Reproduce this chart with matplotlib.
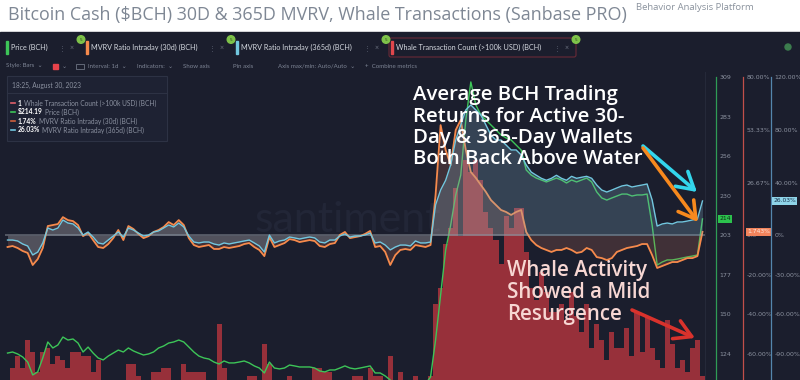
import matplotlib
matplotlib.use('Agg')
import matplotlib.pyplot as plt
import matplotlib.transforms as mtransforms
from matplotlib.patches import Rectangle, FancyBboxPatch, Circle
import numpy as np

# daily values, Feb -> Aug 30 2023
price = [124.6, 125.3, 124.0, 122.0, 118.6, 110.0, 112.0, 121.3, 132.0, 128.0,
         130.0, 135.3, 133.3, 134.0, 131.3, 125.3, 128.6, 124.6, 121.3, 120.0,
         122.6, 124.6, 126.6, 125.3, 128.0, 126.0, 124.6, 123.3, 124.0, 125.3,
         128.0, 129.3, 131.3, 132.0, 133.3, 132.0, 128.6, 125.3, 122.6, 121.3,
         120.6, 118.6, 117.3, 119.3, 118.0, 118.0, 118.6, 119.3, 118.0, 116.0,
         114.6, 111.3, 118.6, 114.6, 114.0, 114.6, 116.6, 116.0, 115.3, 115.3,
         115.3, 114.6, 112.6, 112.0, 113.3, 113.3, 114.6, 116.0, 114.6, 114.0,
         114.6, 115.3, 116.0, 111.3, 111.3, 109.3, 106.6, 103.3, 102.6, 101.9,
         101.3, 102.6, 103.3, 104.0, 108.6, 133.3, 163.4, 193.4, 210.1, 230.2,
         243.5, 280.3, 305.7, 290.3, 283.6, 280.3, 276.9, 273.6, 270.3, 268.3,
         266.9, 263.6, 260.2, 246.9, 243.5, 241.5, 240.2, 238.9, 240.2, 241.5,
         240.2, 238.2, 240.2, 238.9, 240.2, 241.5, 238.9, 232.2, 228.2, 226.8,
         228.2, 229.5, 230.8, 230.8, 229.5, 230.2, 230.2, 230.8, 210.1, 183.4,
         185.4, 186.8, 186.8, 187.4, 188.1, 188.8, 189.4, 190.1, 214.19]

mvrv30 = [-5.9, -5.4, -6.4, -7.9, -8.9, -15.0, -12.0, -6.4, 4.7, 5.2,
          5.7, 9.2, 7.7, 7.2, 5.2, -0.4, 1.2, -2.4, -5.9, -6.4,
          -4.4, -1.4, 2.7, -2.4, 4.7, 3.2, 0.7, -1.4, -0.4, 1.7,
          2.7, 4.2, 6.7, 5.2, 7.7, 5.2, -1.4, -4.9, -5.9, -5.4,
          -4.9, -6.9, -6.9, -5.9, -6.4, -5.9, -5.4, -4.4, -3.9, -5.9,
          -7.4, -10.5, -0.9, -5.9, -4.9, -3.9, -1.9, -2.4, -3.4, -2.9,
          -2.4, -2.9, -5.4, -5.9, -4.4, -3.9, 0.2, 1.7, -1.4, -0.9,
          -0.4, 0.7, 2.2, -5.9, -5.4, -8.4, -15.0, -10.0, -7.4, -6.9,
          -7.4, -4.9, -5.4, -5.9, -4.9, 20.4, 55.7, 43.1, 35.5, 53.2,
          58.3, 43.1, 32.0, 29.0, 25.4, 21.9, 17.8, 15.3, 12.8, 11.8,
          10.3, 11.8, 12.8, 1.7, -2.4, -4.9, -6.4, -7.4, -8.4, -7.4,
          -7.4, -6.4, -7.4, -8.9, -8.4, -6.4, -7.4, -11.0, -11.5, -12.5,
          -11.5, -8.4, -7.4, -6.4, -5.9, -5.4, -4.4, -4.4, -10.0, -16.5,
          -15.5, -14.5, -13.5, -13.5, -12.5, -11.5, -11.5, -10.5, 1.743]

mvrv365 = [-3.6, -3.6, -4.3, -6.6, -8.1, -14.9, -12.7, -5.8, 5.5, 4.0,
           5.5, 11.6, 9.3, 8.6, 5.5, 0.2, 2.5, -1.3, -5.8, -6.6,
           -3.6, -0.5, 2.5, -1.3, 5.5, 4.0, 1.7, -0.5, 0.2, 2.5,
           3.3, 5.5, 7.8, 6.3, 9.3, 6.3, -0.5, -5.1, -5.8, -5.1,
           -5.1, -6.6, -7.4, -5.8, -6.6, -5.8, -5.1, -4.3, -3.6, -5.8,
           -8.1, -12.7, 0.2, -5.8, -4.3, -3.6, -1.3, -2.0, -2.8, -2.0,
           -1.3, -2.0, -5.1, -5.8, -3.6, -3.6, -0.5, 1.0, -1.3, -0.5,
           -0.5, 0.2, 1.7, -5.8, -5.1, -7.4, -11.1, -8.9, -7.4, -7.4,
           -8.1, -4.3, -5.8, -5.8, -5.1, 23.0, 34.3, 41.7, 53.3, 72.2,
           83.6, 95.0, 98.8, 95.0, 91.2, 83.6, 76.0, 72.2, 72.2, 68.4,
           64.7, 64.7, 60.9, 53.3, 47.9, 45.5, 43.2, 41.7, 43.2, 45.5,
           43.2, 41.7, 44.7, 43.2, 44.0, 44.7, 43.2, 38.1, 34.3, 32.8,
           34.3, 35.9, 37.4, 38.1, 36.6, 37.4, 38.1, 38.9, 26.8, 7.0,
           8.6, 9.3, 8.6, 10.1, 10.1, 10.8, 11.6, 12.4, 26.03]

whale = [0, 3, 6, 3, 10, 7, 2, 7, 8, 4,
         6, 5, 3, 7, 7, 6, 6, 2, 5, 0,
         0, 0, 0, 0, 4, 4, 1, 0, 0, 2,
         2, 3, 3, 0, 0, 4, 2, 2, 2, 2,
         0, 0, 14, 3, 0, 0, 0, 0, 1, 1,
         0, 9, 4, 0, 0, 0, 1, 0, 0, 0,
         0, 3, 3, 2, 2, 0, 0, 0, 0, 1,
         1, 0, 3, 1, 1, 0, 6, 0, 2, 0,
         0, 1, 0, 0, 1, 19, 23, 34, 38, 48,
         36, 55, 52, 55, 50, 42, 38, 35, 29, 41,
         38, 43, 43, 32, 23, 20, 27, 22, 17, 17,
         19, 15, 22, 16, 12, 19, 8, 14, 10, 5,
         12, 8, 8, 13, 6, 17, 7, 16, 8, 5,
         3, 15, 9, 3, 5, 2, 8, 10, 1]

price_ticks = [124, 150.4, 176.9, 203.3, 229.7, 256.1, 282.6, 309]
m30_ticks = [-60, -40, -20, 0, 26.67, 53.33, 80]
m365_ticks = [-90, -60, -30, 0, 40, 80, 120]

title = 'Bitcoin Cash ($BCH) 30D & 365D MVRV, Whale Transactions (Sanbase PRO)'
tabs = ['Price (BCH)', 'MVRV Ratio Intraday (30d) (BCH)',
        'MVRV Ratio Intraday (365d) (BCH)', 'Whale Transaction Count (>100k USD) (BCH)']

BG = '#1b1e2d'
GREEN, ORANGE, CYAN, RED = '#3dc558', '#f68a4c', '#72c7df', '#97303a'
W, H = 800, 380
UI = ['Lato', 'DejaVu Sans']

days = np.arange(len(price))

fig = plt.figure(figsize=(8, 3.8), dpi=100, facecolor='white')


def px_axes(x0, y0, x1, y1, z):
    return fig.add_axes([x0 / W, 1 - y1 / H, (x1 - x0) / W, (y1 - y0) / H], zorder=z)


# ---- background / header / toolbar
bg = px_axes(0, 0, W, H, 0)
bg.set_xlim(0, W)
bg.set_ylim(H, 0)
bg.axis('off')
bg.add_patch(Rectangle((0, 32), W, H - 32, color=BG))
bg.text(8, 15, title, fontsize=12.9, color='#7e8794', va='center',
        family='Open Sans', parse_math=False)
bg.text(636, 8, 'Behavior Analysis Platform', fontsize=6.8, color='#8a929d',
        va='center', family='Open Sans')
bg.add_patch(Circle((788, 47), 3, color='#3c7d4e'))

tab_pos = [(4, 81), (84, 231), (234, 386), (389, 576)]
tab_cols = [GREEN, ORANGE, CYAN, '#e0474c']
for name, (x0, x1), c in zip(tabs, tab_pos, tab_cols):
    if name.startswith('Whale'):
        bg.add_patch(FancyBboxPatch((x0, 38), x1 - x0, 19, boxstyle='round,pad=0,rounding_size=2',
                                    fc=BG, ec='#6a2a36', lw=0.8))
    bg.add_patch(Rectangle((x0 + 1.5, 41), 2, 13, color=c))
    bg.text(x0 + 7, 47.5, name, fontsize=5.2, color='#d3d7de', va='center', family=UI)
    bg.text(x1 - 22, 47.5, '⋮', fontsize=5, color='#5d6373', va='center', family=UI)
    bg.text(x1 - 9, 47.5, '×', fontsize=5, color='#6b7180', va='center', ha='center', family=UI)
    bg.add_patch(Circle((x1, 39.5), 3.8, color='#7fc34a', zorder=3))
    bg.text(x1, 39.7, '5', fontsize=3, color='#2b4a1a', ha='center', va='center', zorder=4)

opts = [(6, 'Style: Bars  ⌄'), (62, '⌄'), (88, 'Interval: 1d  ⌄'), (137, 'Indicators:  ⌄'),
        (183, 'Show axis'), (233, 'Pin axis'), (278, 'Axis max/min: Auto/Auto  ⌄'),
        (365, '+  Combine metrics')]
for x, t in opts:
    bg.text(x, 66, t, fontsize=4.4, color='#7d8494', va='center', family=UI)
bg.add_patch(Rectangle((53, 63.5), 5, 5, color='#e8434b'))
bg.add_patch(Rectangle((76, 63.5), 8, 5, fc='none', ec='#7d8494', lw=0.5))

bg.text(255, 220, 'santiment', fontsize=31, color='#222637', va='center', family='Lato')
bg.plot([705, 705], [72, H], color='#252939', lw=0.8)

# ---- chart layers
ax_w = px_axes(5, 77, 705, 380, 1)
ax_w.set_facecolor('none')
ax_w.bar(days, whale, width=1.0, color=RED, linewidth=0)
ax_w.set_ylim(0, 75.75)
ax_w.set_xlim(-0.5, len(days) - 0.5)
for s in ax_w.spines.values():
    s.set_visible(False)
ax_w.set_xticks([])
ax_w.set_yticks([])

ax_p = ax_w.twinx()
ax_30 = ax_w.twinx()
ax_365 = ax_w.twinx()


def side_axis(ax, offset_px, color, ticks, labels, lim):
    for name, s in ax.spines.items():
        s.set_visible(name == 'right')
    ax.spines['right'].set_position(('outward', offset_px * 0.72))
    ax.spines['right'].set_color(color)
    ax.spines['right'].set_linewidth(0.9)
    ax.set_ylim(*lim)
    ax.set_yticks(ticks, labels)
    ax.tick_params(axis='y', length=0, pad=2.5, labelsize=4.5, labelcolor='#8c92a0')


side_axis(ax_p, 11, '#2f9c55', price_ticks, [f'{t:.0f}' for t in price_ticks], (106.6, 309))
side_axis(ax_30, 38, '#c24f4a', m30_ticks,
          ['0%' if t == 0 else f'{t:.2f}%' for t in m30_ticks], (-73.1, 80))
side_axis(ax_365, 66, '#5486ad', m365_ticks,
          ['0%' if t == 0 else f'{t:.2f}%' for t in m365_ticks], (-109.7, 120))

ax_365.fill_between(days, mvrv365, 0, color='#86b4cc', alpha=0.25, lw=0)
ax_30.fill_between(days, mvrv30, 0, color='#d97a60', alpha=0.2, lw=0)
ax_30.axhline(0, color='#8a8e97', lw=1.2, alpha=0.6)
ax_p.plot(days, price, color=GREEN, lw=1.0)
ax_30.plot(days, mvrv30, color=ORANGE, lw=1.3)
ax_365.plot(days, mvrv365, color=CYAN, lw=1.0)


def value_box(ax, x_px, val, text, fc, tc):
    tr = mtransforms.blended_transform_factory(fig.transFigure, ax.transData)
    ax.text(x_px / W, val, text, transform=tr, fontsize=4.3, color=tc, va='center',
            bbox=dict(boxstyle='square,pad=0.25', fc=fc, ec='none'))


value_box(ax_p, 719, price[-1], f'{price[-1]:.0f}', '#2cc24d', '#0f2a17')
value_box(ax_30, 747, mvrv30[-1], f'{mvrv30[-1]:.3f}%', '#f2845c', '#fde9df')
value_box(ax_365, 773, mvrv365[-1], f'{mvrv365[-1]:.2f}%', '#8fd4e8', '#18304a')

# ---- overlay: legend box, callouts, arrows
top = px_axes(0, 0, W, H, 10)
top.set_xlim(0, W)
top.set_ylim(H, 0)
top.axis('off')

top.add_patch(Rectangle((7, 76), 160, 65, fc='#1e2233', ec='#2d3244', lw=0.8))
top.text(12, 85, '18:25, August 30, 2023', fontsize=4.8, color='#8b91a0', va='center', family=UI)
top.plot([7, 167], [93, 93], color='#2d3244', lw=0.8)
items = [(f'{whale[-1]}', tabs[3], '#e0606a'),
         (f'${price[-1]:.2f}', tabs[0], GREEN),
         (f'{mvrv30[-1]:.2f}%', tabs[1], '#d0603c'),
         (f'{mvrv365[-1]:.2f}%', tabs[2], CYAN)]
for k, (val, lab, c) in enumerate(items):
    y = 103 + k * 9
    top.plot([11, 15], [y, y], color=c, lw=1.2)
    t = top.text(18, y, val, fontsize=4.8, color='white', weight='bold', va='center',
                 family=UI, parse_math=False)
    top.annotate(lab, xy=(1, 0.5), xycoords=t, xytext=(1.5, 0), textcoords='offset points',
                 fontsize=4.8, color='#8b91a0', va='center', family=UI)

top.text(413, 85, 'Average BCH Trading\nReturns for Active 30-\nDay & 365-Day Wallets\nBoth Back Above Water',
         fontsize=14.7, color='white', va='top', ha='left', family='Open Sans',
         weight='semibold', linespacing=1.1)
top.text(507, 260, 'Whale Activity\nShowed a Mild\nResurgence',
         fontsize=14.8, color='#f7d7d3', va='top', ha='left', family='Open Sans',
         weight='semibold', linespacing=1.07)

arrows = [((643, 146), (697, 192), '#33d6ec'),
          ((643, 148), (698, 222), '#f7891d'),
          ((632, 310), (695, 338), '#d9322c')]
for start, end, c in arrows:
    top.annotate('', xy=end, xytext=start,
                 arrowprops=dict(arrowstyle='->,head_length=0.6,head_width=0.35',
                                 color=c, lw=2.6, mutation_scale=20,
                                 shrinkA=0, shrinkB=0))

fig.savefig('out.png', dpi=100, facecolor='white')
